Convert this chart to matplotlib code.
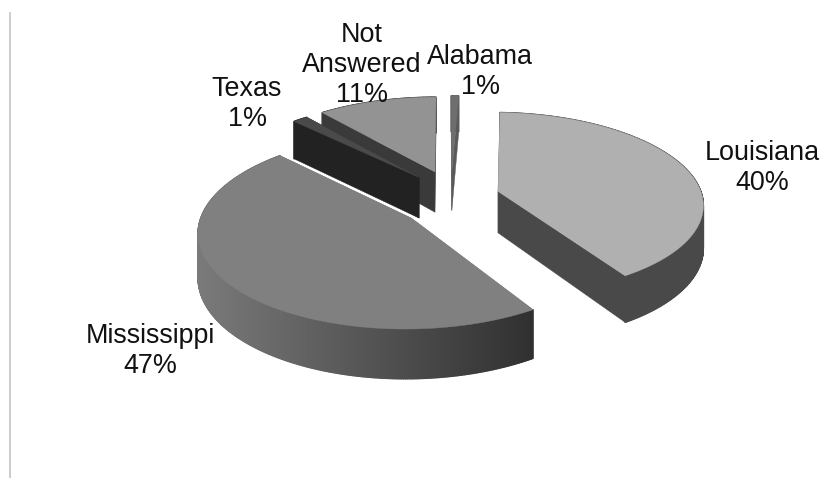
import matplotlib
matplotlib.use("Agg")
import matplotlib.pyplot as plt
import numpy as np
from matplotlib.collections import PolyCollection
from matplotlib.colors import to_rgb
from matplotlib.patches import Polygon

# data, clockwise from the first slice
names = ["Louisiana", "Mississippi", "Texas", "Not\nAnswered", "Alabama"]
percent_labels = [40, 47, 1, 11, 1]
shares = [40.4, 46.6, 1.4, 10.9, 0.7]

# look of the 3d pie
first_angle = 2.3
cx, cy = 451, 199
rx, ry = 205, 91
persp = 0.13
depth = 42
explode_x, explode_y = 0.24, 0.33

tops = ["#b0b0b0", "#808080", "#4a4a4a", "#939393", "#6e6e6e"]
sides_l = ["#494949", "#7a7a7a", "#222222", "#3a3a3a", "#5a5a5a"]
sides_r = ["#494949", "#303030", "#222222", "#3a3a3a", "#5a5a5a"]
draw_order = [4, 3, 2, 0, 1]

plt.rcParams["font.family"] = ["Liberation Sans", "DejaVu Sans"]
fig = plt.figure(figsize=(8.22, 4.78), dpi=100)
ax = fig.add_axes([0, 0, 1, 1])
ax.set_xlim(0, 822)
ax.set_ylim(478, 0)
ax.axis("off")


def project(u, v, down=0.0):
    s = 1 / (1 + persp * v)
    return cx + rx * u * s, cy - ry * v * s + down * s


def mix(c1, c2, t):
    return tuple((1 - t) * a + t * b for a, b in zip(to_rgb(c1), to_rgb(c2)))


edges = first_angle + np.cumsum([0] + shares) * 3.6

for i in draw_order:
    a0, a1 = edges[i], edges[i + 1]
    mid = np.radians((a0 + a1) / 2)
    ou, ov = explode_x * np.sin(mid), explode_y * np.cos(mid)
    th = np.radians(np.linspace(a0, a1, max(int(a1 - a0) * 2, 4)))
    us = ou + np.sin(th)
    vs = ov + np.cos(th)

    rim_top = np.array([project(u, v) for u, v in zip(us, vs)])
    rim_bot = np.array([project(u, v, depth) for u, v in zip(us, vs)])
    tip_top = project(ou, ov)
    tip_bot = project(ou, ov, depth)

    # the two cut faces first, then the rim, the top goes over them
    for k in (0, -1):
        ax.add_patch(Polygon([tip_top, rim_top[k], rim_bot[k], tip_bot],
                             fc=sides_l[i], ec=sides_l[i], lw=0.3))

    quads = []
    cols = []
    for k in range(len(th) - 1):
        quads.append([rim_top[k], rim_top[k + 1], rim_bot[k + 1], rim_bot[k]])
        t = (rim_top[k, 0] - rim_top[:, 0].min()) / np.ptp(rim_top[:, 0])
        cols.append(mix(sides_l[i], sides_r[i], t))
    ax.add_collection(PolyCollection(quads, facecolors=cols, edgecolors=cols, linewidths=1.0))

    ax.add_patch(Polygon(np.vstack([[tip_top], rim_top]), fc=tops[i], ec=tops[i], lw=0.3))

label_pos = [(762, 167.5), (150, 351), (247, 104), (362, 65), (480, 71.5)]
for name, pct, pos in zip(names, percent_labels, label_pos):
    ax.text(pos[0], pos[1], f"{name}\n{pct}%", ha="center", va="center",
            fontsize=19.4, color="#111111", linespacing=1.2)

# thin rule on the left edge
ax.plot([10, 10], [13, 478], color="#c4c4c4", lw=1.2)

fig.savefig("out.png", dpi=100)
